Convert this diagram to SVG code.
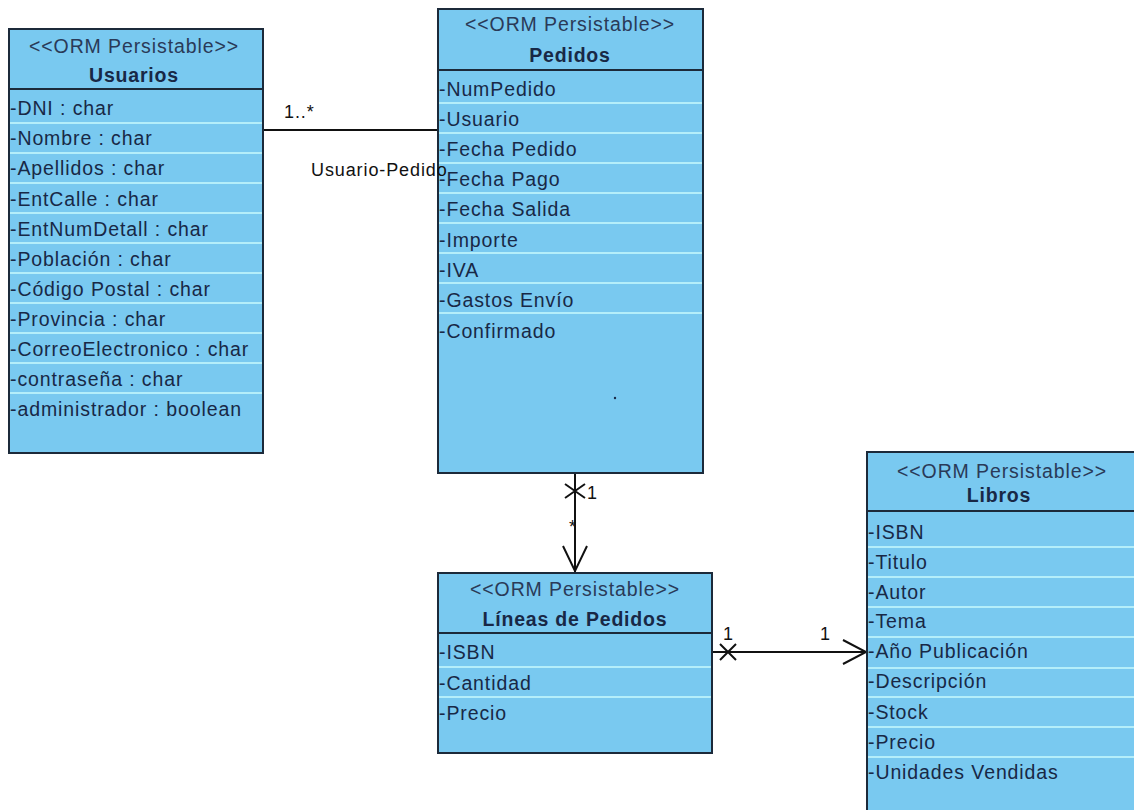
<svg xmlns="http://www.w3.org/2000/svg" width="1134" height="810" viewBox="0 0 1134 810">
<style>
.box{fill:#79c9f0;stroke:#1c2a3a;stroke-width:2}
.sep{stroke:#1c2a3a;stroke-width:2}
.row{stroke:#b4eefa;stroke-width:2}
text{font-family:"Liberation Sans",Arial,sans-serif;font-size:19.5px;letter-spacing:0.9px;fill:#182846}
.st{text-anchor:middle;fill:#2a3a58}
.nm{text-anchor:middle;font-weight:bold;letter-spacing:0.8px}
.lbl{fill:#111;font-size:18px;letter-spacing:0.9px}
.ln{stroke:#111;stroke-width:2;fill:none}
</style>
<rect width="1134" height="810" fill="#ffffff"/>
<g id="connectors">
<line class="ln" x1="263" y1="130" x2="438" y2="130"/>
<text class="lbl" x="284" y="118">1..*</text>
<line class="ln" x1="575" y1="473" x2="575" y2="572"/>
<path class="ln" d="M565,484 L585,498 M585,484 L565,498"/>
<text class="lbl" x="587" y="499">1</text>
<text class="lbl" x="569" y="533">*</text>
<path class="ln" d="M563,546 L575,571 L587,546"/>
<line class="ln" x1="712" y1="652" x2="866" y2="652"/>
<path class="ln" d="M720,644 L736,660 M736,644 L720,660"/>
<text class="lbl" x="723" y="640">1</text>
<text class="lbl" x="820" y="640">1</text>
<path class="ln" d="M843,640 L866,652 L843,664"/>
</g>
<g id="usuarios">
<rect class="box" x="9" y="29" width="254" height="424"/>
<line class="sep" x1="9" y1="89" x2="263" y2="89"/>
<g class="row">
<line x1="10" y1="123" x2="262" y2="123"/><line x1="10" y1="153" x2="262" y2="153"/><line x1="10" y1="183" x2="262" y2="183"/><line x1="10" y1="213" x2="262" y2="213"/><line x1="10" y1="243" x2="262" y2="243"/><line x1="10" y1="273" x2="262" y2="273"/><line x1="10" y1="303" x2="262" y2="303"/><line x1="10" y1="333" x2="262" y2="333"/><line x1="10" y1="363" x2="262" y2="363"/><line x1="10" y1="393" x2="262" y2="393"/>
</g>
<text class="st" x="134" y="53">&lt;&lt;ORM Persistable&gt;&gt;</text>
<text class="nm" x="134" y="82">Usuarios</text>
<text x="10" y="115">-DNI : char</text>
<text x="10" y="145">-Nombre : char</text>
<text x="10" y="175">-Apellidos : char</text>
<text x="10" y="206">-EntCalle : char</text>
<text x="10" y="236">-EntNumDetall : char</text>
<text x="10" y="266">-Población : char</text>
<text x="10" y="296">-Código Postal : char</text>
<text x="10" y="326">-Provincia : char</text>
<text x="10" y="356">-CorreoElectronico : char</text>
<text x="10" y="386">-contraseña : char</text>
<text x="10" y="416">-administrador : boolean</text>
</g>
<g id="pedidos">
<rect class="box" x="438" y="9" width="265" height="464"/>
<line class="sep" x1="438" y1="70" x2="703" y2="70"/>
<g class="row">
<line x1="439" y1="103" x2="702" y2="103"/><line x1="439" y1="133" x2="702" y2="133"/><line x1="439" y1="163" x2="702" y2="163"/><line x1="439" y1="193" x2="702" y2="193"/><line x1="439" y1="223" x2="702" y2="223"/><line x1="439" y1="253" x2="702" y2="253"/><line x1="439" y1="283" x2="702" y2="283"/><line x1="439" y1="313" x2="702" y2="313"/>
</g>
<text class="st" x="570" y="31">&lt;&lt;ORM Persistable&gt;&gt;</text>
<text class="nm" x="570" y="62">Pedidos</text>
<text x="439" y="96">-NumPedido</text>
<text x="439" y="126">-Usuario</text>
<text x="439" y="156">-Fecha Pedido</text>
<text x="439" y="186">-Fecha Pago</text>
<text x="439" y="216">-Fecha Salida</text>
<text x="439" y="247">-Importe</text>
<text x="439" y="277">-IVA</text>
<text x="439" y="307">-Gastos Envío</text>
<text x="439" y="338">-Confirmado</text>
<circle cx="615" cy="398" r="1.2" fill="#1a2a48"/>
</g>
<text class="lbl" x="311" y="176">Usuario-Pedido</text>
<g id="lineas">
<rect class="box" x="438" y="573" width="274" height="180"/>
<line class="sep" x1="438" y1="633" x2="712" y2="633"/>
<g class="row">
<line x1="439" y1="667" x2="711" y2="667"/><line x1="439" y1="697" x2="711" y2="697"/>
</g>
<text class="st" x="575" y="596">&lt;&lt;ORM Persistable&gt;&gt;</text>
<text class="nm" x="575" y="626">Líneas de Pedidos</text>
<text x="439" y="659">-ISBN</text>
<text x="439" y="690">-Cantidad</text>
<text x="439" y="720">-Precio</text>
</g>
<g id="libros">
<rect class="box" x="867" y="452" width="280" height="370"/>
<line class="sep" x1="867" y1="511" x2="1134" y2="511"/>
<g class="row">
<line x1="868" y1="547" x2="1134" y2="547"/><line x1="868" y1="577" x2="1134" y2="577"/><line x1="868" y1="607" x2="1134" y2="607"/><line x1="868" y1="637" x2="1134" y2="637"/><line x1="868" y1="668" x2="1134" y2="668"/><line x1="868" y1="697" x2="1134" y2="697"/><line x1="868" y1="727" x2="1134" y2="727"/><line x1="868" y1="757" x2="1134" y2="757"/>
</g>
<text class="st" x="1002" y="478">&lt;&lt;ORM Persistable&gt;&gt;</text>
<text class="nm" x="999" y="502">Libros</text>
<text x="868" y="539">-ISBN</text>
<text x="868" y="569">-Titulo</text>
<text x="868" y="599">-Autor</text>
<text x="868" y="628">-Tema</text>
<text x="868" y="658">-Año Publicación</text>
<text x="868" y="688">-Descripción</text>
<text x="868" y="719">-Stock</text>
<text x="868" y="749">-Precio</text>
<text x="868" y="779">-Unidades Vendidas</text>
</g>
</svg>
